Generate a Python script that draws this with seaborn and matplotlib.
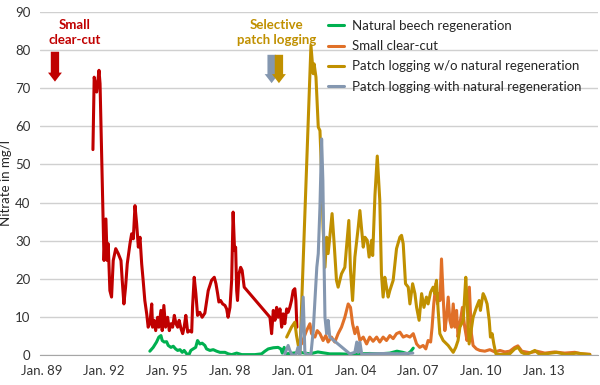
import numpy as np
import pandas as pd
import matplotlib
matplotlib.use("Agg")
import matplotlib.pyplot as plt
import matplotlib.dates as mdates
import seaborn as sns

# values: decimal years and nitrate in mg/l
red_years = [1991.46, 1991.52, 1991.64, 1991.75, 1991.80, 1991.99, 1992.08, 1992.14, 1992.19, 1992.27,
             1992.35, 1992.43, 1992.55, 1992.67, 1992.80, 1992.86, 1992.94, 1993.02, 1993.10, 1993.23,
             1993.31, 1993.39, 1993.47, 1993.55, 1993.63, 1993.71, 1993.79, 1993.86, 1993.94, 1994.03,
             1994.10, 1994.18, 1994.27, 1994.31, 1994.38, 1994.46, 1994.55, 1994.61, 1994.71, 1994.77,
             1994.85, 1994.93, 1995.03, 1995.11, 1995.19, 1995.27, 1995.35, 1995.43, 1995.51, 1995.58,
             1995.67, 1995.75, 1995.82, 1995.90, 1995.99, 1996.10, 1996.18, 1996.22, 1996.30, 1996.38,
             1996.46, 1996.57, 1996.68, 1996.81, 1996.97, 1997.13, 1997.26, 1997.34, 1997.42, 1997.48,
             1997.56, 1997.66, 1997.77, 1997.85, 1997.92, 1998.01, 1998.09, 1998.16, 1998.23, 1998.28,
             1998.33, 1998.37, 1998.44, 1998.52, 1998.59, 1998.69, 1999.92, 2000.00, 2000.08, 2000.16,
             2000.24, 2000.31, 2000.40, 2000.48, 2000.55, 2000.63, 2000.72, 2000.79, 2000.87, 2000.95,
             2001.03, 2001.11, 2001.16, 2001.21]
red_vals = [53.9, 72.9, 69.0, 74.7, 71.2, 24.8, 35.7, 24.8, 29.2, 16.9,
            15.2, 24.8, 27.9, 26.6, 24.8, 19.6, 13.4, 17.8, 23.9, 29.2,
            31.8, 30.5, 39.2, 34.4, 28.3, 30.9, 23.9, 19.6, 14.3, 10.8,
            7.3, 8.2, 13.4, 7.3, 9.1, 6.4, 9.9, 7.3, 11.7, 6.4,
            13.0, 7.3, 9.9, 6.4, 8.2, 7.3, 10.4, 8.2, 7.3, 9.1,
            6.9, 5.6, 7.3, 10.4, 6.0, 6.4, 6.0, 12.5, 20.4, 16.1,
            10.4, 11.2, 9.9, 11.0, 16.9, 19.6, 20.4, 18.7, 16.1, 13.9,
            14.3, 13.4, 13.0, 12.1, 9.9, 12.5, 19.6, 37.5, 27.4, 28.3,
            16.9, 14.3, 21.3, 23.0, 22.2, 17.8, 9.9, 5.6, 11.7, 9.1,
            12.5, 9.9, 12.1, 7.3, 10.8, 8.2, 12.1, 11.2, 12.5, 14.3,
            16.9, 17.4, 14.3, 7.3]

green_years = [1994.18, 1994.34, 1994.50, 1994.61, 1994.71, 1994.77, 1994.87, 1994.98, 1995.06, 1995.19,
               1995.30, 1995.41, 1995.51, 1995.62, 1995.73, 1995.82, 1995.94, 1996.05, 1996.14, 1996.25,
               1996.37, 1996.46, 1996.57, 1996.68, 1996.81, 1996.89, 1997.05, 1997.21, 1997.37, 1997.53,
               1997.77, 1997.93, 1998.09, 1998.33, 1998.57, 1998.88, 1999.20, 1999.52, 1999.68, 1999.84,
               2000.08, 2000.31, 2000.44, 2000.51, 2000.60, 2000.67, 2000.87, 2001.35, 2001.83, 2002.21,
               2002.78, 2003.26, 2003.74, 2004.22, 2004.69, 2005.17, 2005.65, 2005.99, 2006.27, 2006.51,
               2006.66, 2006.77]
green_vals = [1.0, 2.0, 3.4, 4.7, 5.1, 3.8, 3.4, 3.5, 2.5, 2.0,
              2.3, 1.6, 1.2, 1.4, 0.7, 1.2, 0.3, 0.1, 1.2, 1.6,
              2.0, 3.8, 2.9, 3.1, 2.5, 1.6, 1.2, 1.4, 1.0, 0.7,
              0.7, 0.3, 0.1, 0.5, 0.1, 0.1, 0.1, 0.3, 1.0, 1.6,
              1.9, 2.0, 1.6, 0.5, 2.0, 0.3, 0.4, 0.7, 0.3, 0.8,
              0.3, 0.3, 0.2, 0.3, 0.4, 0.3, 0.5, 1.0, 0.7, 0.3,
              1.0, 1.8]

orange_years = [2001.43, 2001.67, 2001.83, 2001.91, 2002.07, 2002.18, 2002.31, 2002.46, 2002.59, 2002.70,
                2002.86, 2003.02, 2003.18, 2003.34, 2003.50, 2003.66, 2003.77, 2003.87, 2003.98, 2004.09,
                2004.22, 2004.38, 2004.54, 2004.69, 2004.85, 2005.02, 2005.17, 2005.33, 2005.49, 2005.65,
                2005.81, 2005.97, 2006.13, 2006.29, 2006.45, 2006.61, 2006.77, 2006.93, 2007.08, 2007.24,
                2007.37, 2007.48, 2007.60, 2007.67, 2007.75, 2007.85, 2007.93, 2007.99, 2008.05, 2008.12,
                2008.20, 2008.28, 2008.36, 2008.44, 2008.52, 2008.60, 2008.68, 2008.76, 2008.84, 2008.91,
                2009.00, 2009.12, 2009.23, 2009.34, 2009.45, 2009.55, 2009.63, 2009.79, 2009.95, 2010.19,
                2010.43, 2010.67, 2010.91, 2011.15, 2011.38, 2011.62, 2011.77, 2011.96, 2012.34, 2012.67,
                2013.06, 2013.53, 2014.01, 2014.49, 2014.82, 2015.21]
orange_vals = [2.9, 6.4, 8.2, 5.6, 4.7, 6.4, 5.6, 3.8, 5.1, 3.4,
               4.7, 3.4, 5.6, 7.3, 9.9, 13.4, 12.5, 8.2, 5.6, 7.3,
               3.8, 4.7, 2.9, 4.7, 3.6, 4.7, 3.4, 4.7, 3.8, 5.1,
               4.3, 5.6, 6.0, 4.7, 5.1, 4.7, 5.6, 2.9, 2.0, 2.5,
               1.6, 3.8, 3.4, 7.3, 13.4, 18.7, 13.4, 16.1, 14.3, 25.2,
               15.2, 6.4, 9.9, 15.2, 9.1, 7.3, 13.4, 7.3, 11.7, 4.7,
               8.2, 12.5, 7.3, 3.8, 17.8, 5.6, 2.5, 1.6, 1.2, 1.0,
               1.4, 0.8, 1.2, 0.8, 1.0, 2.0, 2.4, 1.0, 0.6, 1.0,
               0.5, 0.8, 0.5, 0.7, 0.3, 0.2]

gold_years = [2000.72, 2000.95, 2001.11, 2001.19, 2001.35, 2001.88, 2001.99, 2002.03, 2002.12, 2002.23,
              2002.31, 2002.39, 2002.46, 2002.55, 2002.63, 2002.70, 2002.78, 2002.89, 2002.99, 2003.10,
              2003.18, 2003.34, 2003.50, 2003.58, 2003.69, 2003.77, 2003.87, 2003.98, 2004.14, 2004.22,
              2004.38, 2004.46, 2004.57, 2004.66, 2004.78, 2004.83, 2004.94, 2005.05, 2005.17, 2005.25,
              2005.33, 2005.41, 2005.49, 2005.57, 2005.65, 2005.81, 2005.97, 2006.13, 2006.21, 2006.29,
              2006.40, 2006.53, 2006.61, 2006.74, 2006.85, 2006.93, 2007.05, 2007.17, 2007.28, 2007.40,
              2007.48, 2007.60, 2007.72, 2007.80, 2007.88, 2007.96, 2008.04, 2008.20, 2008.44, 2008.68,
              2008.80, 2008.91, 2009.00, 2009.16, 2009.28, 2009.34, 2009.44, 2009.63, 2009.79, 2009.92,
              2009.98, 2010.11, 2010.19, 2010.30, 2010.40, 2010.46, 2010.54, 2010.62, 2010.72, 2011.06,
              2011.38, 2011.62, 2011.78, 2011.94, 2012.18, 2012.58, 2012.82, 2013.62, 2014.09, 2014.57,
              2015.21]
gold_vals = [4.7, 7.3, 8.6, 5.1, 0.3, 81.2, 73.8, 76.4, 72.9, 59.8,
             58.9, 47.6, 33.5, 23.0, 30.9, 26.6, 30.9, 37.1, 29.2, 19.6,
             17.8, 21.3, 23.0, 28.3, 35.3, 22.2, 14.3, 25.7, 33.5, 37.9,
             28.3, 30.9, 30.1, 25.7, 30.1, 26.1, 42.0, 52.2, 40.6, 21.3,
             15.2, 20.4, 17.8, 15.2, 16.9, 19.6, 27.9, 30.9, 31.4, 29.2,
             18.7, 17.8, 13.4, 18.7, 16.1, 12.5, 9.1, 16.1, 12.5, 15.2,
             13.4, 16.5, 17.8, 16.1, 19.6, 11.7, 5.6, 3.8, 2.5, 0.7,
             2.0, 3.8, 7.3, 9.1, 20.4, 14.3, 2.9, 9.9, 12.5, 14.3,
             11.7, 16.1, 15.2, 13.4, 9.1, 4.7, 5.6, 2.9, 0.3, 0.1,
             0.3, 1.6, 2.0, 0.7, 0.1, 1.2, 0.1, 0.7, 0.1, 0.5,
             0.1]

gray_years = [2000.63, 2000.79, 2000.87, 2000.97, 2001.16, 2001.26, 2001.35, 2001.51, 2001.59, 2001.73,
              2001.88, 2001.99, 2002.07, 2002.16, 2002.23, 2002.31, 2002.39, 2002.45, 2002.50, 2002.55,
              2002.63, 2002.70, 2002.78, 2003.74, 2003.98, 2004.07, 2004.14, 2004.22, 2004.31, 2004.69,
              2005.41, 2006.12, 2006.75]
gray_vals = [0.3, 2.5, 1.2, 0.0, 0.0, 2.0, 0.0, 15.2, 0.7, 0.0,
             0.3, 6.4, 14.3, 23.0, 26.6, 38.8, 56.7, 45.8, 26.6, 9.9,
             5.6, 9.1, 4.7, 0.3, 0.7, 3.4, 0.7, 3.4, 0.1, 0.3,
             0.4, 0.3, 0.5]

series_names = ["Natural beech regeneration", "Small clear-cut",
                "Patch logging w/o natural regeneration", "Patch logging with natural regeneration"]
series_colors = ["#00B050", "#E07028", "#C09000", "#8497B0"]
red_color = "#C00000"


def to_dates(years):
    years = np.asarray(years, dtype=float)
    return pd.Timestamp("1989-01-01") + pd.to_timedelta((years - 1989) * 365.25, unit="D")


red_df = pd.DataFrame({"date": to_dates(red_years), "nitrate": red_vals})
frames = []
for name, yrs, vals in zip(series_names,
                           [green_years, orange_years, gold_years, gray_years],
                           [green_vals, orange_vals, gold_vals, gray_vals]):
    frames.append(pd.DataFrame({"date": to_dates(yrs), "nitrate": vals, "series": name}))
df = pd.concat(frames, ignore_index=True)

sns.set_style("white")
plt.rcParams["font.family"] = ["Lato", "DejaVu Sans"]

fig = plt.figure(figsize=(6, 3.85), dpi=100)
ax = fig.add_axes([40 / 600, 30 / 385, 558 / 600, 343 / 385])

sns.lineplot(data=red_df, x="date", y="nitrate", color=red_color, lw=2.2,
             estimator=None, legend=False, ax=ax)
sns.lineplot(data=df, x="date", y="nitrate", hue="series", hue_order=series_names,
             palette=series_colors, lw=2.2, estimator=None, ax=ax)

ax.set_xlim(to_dates([1988.93])[0], to_dates([2015.6])[0])
ax.set_ylim(0, 90)
ax.set_yticks(range(0, 91, 10))
ax.yaxis.grid(True, color="#d0d0d0", lw=1)
ax.set_axisbelow(True)
ax.xaxis.set_major_locator(mdates.YearLocator(3))
ax.xaxis.set_major_formatter(mdates.DateFormatter("Jan. %y"))
for s in ["left", "top", "right"]:
    ax.spines[s].set_visible(False)
ax.spines["bottom"].set_color("#a6a6a6")
ax.tick_params(axis="x", length=4, color="#a6a6a6", labelsize=9.5, pad=3, labelcolor="#333333")
ax.tick_params(axis="y", length=0, labelsize=9.5, pad=7, labelcolor="#333333")
ax.set_xlabel("")
ax.set_ylabel("Nitrate in mg/l", fontsize=9.5)
ax.yaxis.set_label_coords(-28 / 558, 0.5)

# arrows and notes for the logging dates
arrow_style = "simple,head_width=1.0,head_length=0.65,tail_width=0.6"
xr = mdates.date2num(to_dates([1989.645])[0])
ax.annotate("", xy=(xr, 71.0), xytext=(xr, 80.3),
            arrowprops=dict(arrowstyle=arrow_style, color=red_color, mutation_scale=10, lw=0))
xg = mdates.date2num(to_dates([2000.0])[0])
ax.annotate("", xy=(xg, 70.6), xytext=(xg, 79.5),
            arrowprops=dict(arrowstyle=arrow_style, color="#8497B0", mutation_scale=10, lw=0))
xo = mdates.date2num(to_dates([2000.35])[0])
ax.annotate("", xy=(xo, 70.6), xytext=(xo, 79.5),
            arrowprops=dict(arrowstyle=arrow_style, color="#C09000", mutation_scale=10, lw=0))

ax.text(mdates.date2num(to_dates([1990.6])[0]), 84.6, "Small\nclear-cut", color=red_color,
        fontsize=9.5, fontweight="bold", ha="center", va="center", linespacing=1.25)
ax.text(mdates.date2num(to_dates([2000.25])[0]), 84.6, "Selective\npatch logging", color="#C09000",
        fontsize=9.5, fontweight="bold", ha="center", va="center", linespacing=1.25)

ax.legend(loc="upper left", bbox_to_anchor=(328 / 600, 1 - 20 / 385), bbox_transform=fig.transFigure,
          frameon=False, fontsize=9.5, handlelength=1.25, handletextpad=0.55, labelspacing=0.62,
          borderpad=0, borderaxespad=0)

fig.savefig("out.png", dpi=100)
